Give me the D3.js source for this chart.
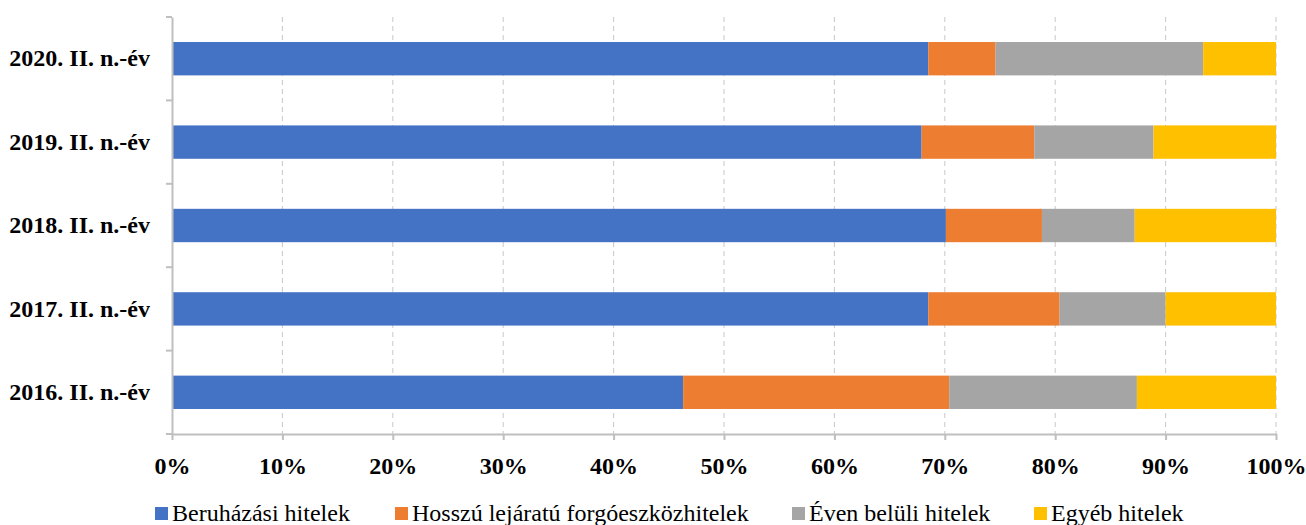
<!DOCTYPE html>
<html><head><meta charset="utf-8">
<script src="https://cdn.jsdelivr.net/npm/d3@7"></script>
<style>body{margin:0;background:#fff}svg{display:block}</style>
</head><body>
<svg id="c" width="1306" height="525"></svg>
<script>
const categories = ["2020. II. n.-év","2019. II. n.-év","2018. II. n.-év","2017. II. n.-év","2016. II. n.-év"];
const seriesNames = ["Beruházási hitelek","Hosszú lejáratú forgóeszközhitelek","Éven belüli hitelek","Egyéb hitelek"];
const seriesColors = ["#4472C4","#ED7D31","#A5A5A5","#FFC000"];
const beruhazasi = [68.5, 67.9, 70.1, 68.5, 46.3];
const hosszu     = [6.1, 10.2, 8.7, 11.9, 24.1];
const evenBeluli = [18.8, 10.8, 8.4, 9.6, 17.0];
const egyeb      = [6.6, 11.1, 12.8, 10.0, 12.6];
const xTicks = [0,0.1,0.2,0.3,0.4,0.5,0.6,0.7,0.8,0.9,1.0];

const seriesValues = [beruhazasi, hosszu, evenBeluli, egyeb];
const rows = categories.map((c,i)=>{
  const o={cat:c}; seriesNames.forEach((s,j)=>o[s]=seriesValues[j][i]); return o;
});
const stacked = d3.stack().keys(seriesNames).offset(d3.stackOffsetExpand)(rows);

const svg = d3.select("#c");
const m = {l:172, r:30, t:17, b:91};
const W=1306, H=525;
const x = d3.scaleLinear().domain([0,1]).range([m.l, W-m.r]);
const y = d3.scaleBand().domain(categories).range([m.t, H-m.b]).paddingInner(0.6).paddingOuter(0.3);
const axisColor="#BFBFBF";
const FS = "24px";

// gridlines
svg.append("g").selectAll("line").data(xTicks.filter(t=>t>0)).join("line")
  .attr("x1",d=>x(d)).attr("x2",d=>x(d)).attr("y1",m.t).attr("y2",H-m.b)
  .attr("stroke","#C8C8C8").attr("stroke-width",1).attr("stroke-dasharray","5,4");

// bars
svg.append("g").selectAll("g").data(stacked).join("g")
  .attr("fill",(d,i)=>seriesColors[i])
  .selectAll("rect").data(d=>d).join("rect")
  .attr("x",d=>x(d[0])).attr("width",d=>x(d[1])-x(d[0]))
  .attr("y",d=>y(d.data.cat)).attr("height",y.bandwidth());

// x axis
const xa = svg.append("g").attr("transform",`translate(0,${H-m.b})`)
  .call(d3.axisBottom(x).tickValues(xTicks).tickFormat(d3.format(".0%")).tickSize(6).tickSizeOuter(0));
xa.select(".domain").attr("stroke",axisColor).attr("stroke-width",2);
xa.selectAll(".tick line").attr("stroke",axisColor).attr("stroke-width",2);
xa.selectAll("text").attr("font-family","Liberation Serif").attr("font-weight","bold")
  .attr("font-size",FS).attr("fill","#000").attr("dy","0").attr("y",40);

// y axis
const ya = svg.append("g").attr("transform",`translate(${m.l},0)`)
  .call(d3.axisLeft(y).tickSize(0).tickSizeOuter(0).tickPadding(22));
ya.select(".domain").attr("stroke",axisColor).attr("stroke-width",2);
ya.selectAll("text").attr("font-family","Liberation Serif").attr("font-weight","bold")
  .attr("font-size",FS).attr("fill","#000");
// category boundary ticks
const bounds = d3.range(categories.length+1).map(i=>m.t + i*((H-m.b-m.t)/categories.length));
svg.append("g").selectAll("line").data(bounds).join("line")
  .attr("x1",m.l-6).attr("x2",m.l).attr("y1",d=>d).attr("y2",d=>d)
  .attr("stroke",axisColor).attr("stroke-width",2);

// legend
const legX = [155, 395, 792, 1034];
const lg = svg.append("g").selectAll("g").data(seriesNames).join("g")
  .attr("transform",(d,i)=>`translate(${legX[i]},507)`);
lg.append("rect").attr("x",0).attr("y",0).attr("width",13).attr("height",13).attr("fill",(d,i)=>seriesColors[i]);
lg.append("text").attr("x",17).attr("y",14).text(d=>d)
  .attr("font-family","Liberation Serif").attr("font-size","24px").attr("fill","#000");
</script>
</body></html>
